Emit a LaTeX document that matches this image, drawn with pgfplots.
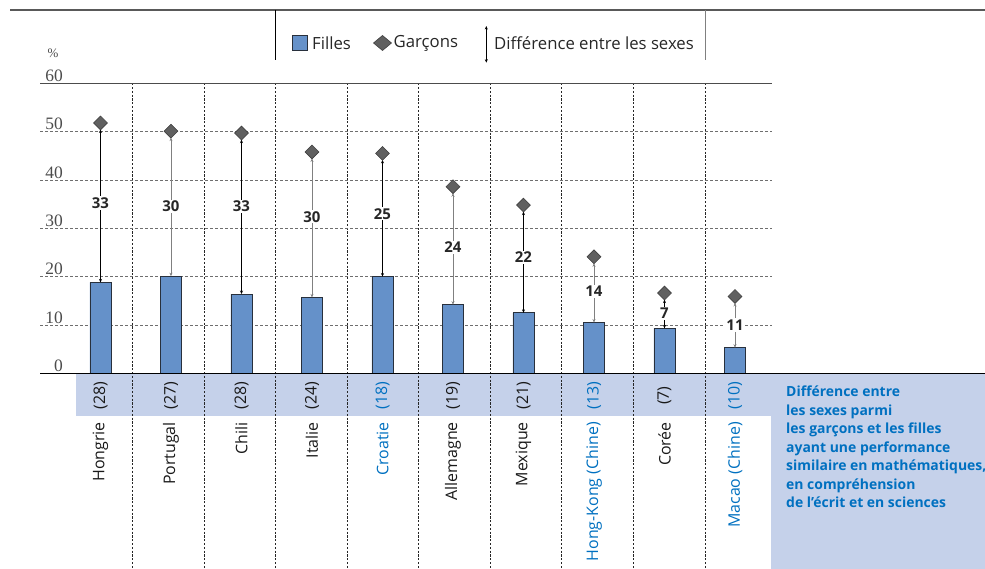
\documentclass[border=0pt]{standalone}
\usepackage{fontspec}
\setmainfont{Open Sans}
\newfontfamily\serifnum{Liberation Serif}
\usepackage{pgfplots}
\usepackage{pgfplotstable}
\pgfplotsset{compat=1.18}
\usetikzlibrary{arrows.meta}

\definecolor{barblue}{RGB}{101,145,201}
\definecolor{baredge}{RGB}{40,48,60}
\definecolor{diagray}{RGB}{96,96,96}
\definecolor{bandblue}{RGB}{197,209,234}
\definecolor{txtblue}{RGB}{0,112,192}
\definecolor{gridgray}{RGB}{110,110,110}

% x, girls, boys, label height, difference
\pgfplotstableread{
x girls boys lab diff
0 18.8 51.8 35.2 33
1 20.1 50.1 34.5 30
2 16.4 49.7 34.5 33
3 15.7 45.8 32.4 30
4 20.0 45.5 33.0 25
5 14.2 38.6 26.1 24
6 12.5 34.8 24.0 22
7 10.5 24.1 16.9 14
8 9.3 16.6 12.4 7
9 5.3 15.9 10.0 11
}\data

\tikzset{
  darr/.style={line width=0.9bp, {Stealth[length=3.5bp,width=3bp]}-{Stealth[length=3.5bp,width=3bp]}, shorten >=6.5bp},
  cname/.style={rotate=90, anchor=east, inner sep=0pt, text=black!90, font=\fontsize{16}{16}\selectfont},
  cnum/.style={rotate=90, anchor=center, inner sep=0pt, text=black!90, font=\fontsize{16}{16}\selectfont},
}

\begin{document}
\begin{tikzpicture}
\useasboundingbox (0,0) rectangle (985bp,569bp);
\fill[bandblue] (76bp,153.3bp) rectangle (985bp,195.7bp);
\fill[bandblue] (771bp,0) rectangle (985bp,195.7bp);
\foreach \xp in {132.7,204,275.3,347,418.7,490,561.7,633.3,705}
  \draw[black!85, dash pattern=on 2.2bp off 1.6bp, line width=0.6bp] (\xp bp,485.7bp) -- (\xp bp,0);

\begin{axis}[
  at={(40bp,195.7bp)}, anchor=south west,
  scale only axis, width=732bp, height=290bp,
  xmin=-0.858, xmax=9.525, ymin=0, ymax=60,
  axis line style={draw=none},
  xtick=\empty, ytick={0,10,...,60},
  ymajorgrids,
  major grid style={gridgray, dash pattern=on 3bp off 2bp, line width=0.7bp},
  major tick length=0,
  /pgf/number format/assume math mode=true,
  yticklabel style={font=\serifnum\fontsize{17.5}{17.5}\selectfont, text=black!70,
    anchor=south east, inner sep=0pt, xshift=23bp, yshift=1.5bp},
  clip=false,
]
\addplot[ybar, bar width=21bp, fill=barblue, draw=baredge, line width=0.8bp] table[x=x, y=girls] {\data};

\addplot[darr, black] coordinates {(0,18.8) (0,51.8)};
\addplot[darr, black!50] coordinates {(1,20.1) (1,50.1)};
\addplot[darr, black] coordinates {(2,16.4) (2,49.7)};
\addplot[darr, black!50] coordinates {(3,15.7) (3,45.8)};
\addplot[darr, black] coordinates {(4,20.0) (4,45.5)};
\addplot[darr, black!50] coordinates {(5,14.2) (5,38.6)};
\addplot[darr, black] coordinates {(6,12.5) (6,34.8)};
\addplot[darr, black!50] coordinates {(7,10.5) (7,24.1)};
\addplot[darr, black] coordinates {(8,9.3) (8,16.6)};
\addplot[darr, black!50] coordinates {(9,5.3) (9,15.9)};

\addplot[only marks, mark=square*, mark size=4.9bp,
  mark options={rotate=45, fill=diagray, draw=black!75, line width=0.6bp}]
  table[x=x, y=boys] {\data};

\addplot[only marks, mark=none, nodes near coords, point meta=explicit symbolic,
  every node near coord/.append style={anchor=center, fill=white, inner sep=1.2bp,
    font=\bfseries\fontsize{15}{15}\selectfont, text=black!85}]
  table[x=x, y=lab, meta=diff] {\data};

\node[cname] at (axis cs:0,-10.08) {Hongrie};
\node[cname] at (axis cs:1,-10.08) {Portugal};
\node[cname] at (axis cs:2,-10.08) {Chili};
\node[cname] at (axis cs:3,-10.08) {Italie};
\node[cname, text=txtblue] at (axis cs:4,-10.08) {Croatie};
\node[cname] at (axis cs:5,-10.08) {Allemagne};
\node[cname] at (axis cs:6,-10.08) {Mexique};
\node[cname, text=txtblue] at (axis cs:7,-10.08) {Hong-Kong (Chine)};
\node[cname] at (axis cs:8,-10.08) {Corée};
\node[cname, text=txtblue] at (axis cs:9,-10.08) {Macao (Chine)};

\node[cnum] at (axis cs:0,-4.63) {(28)};
\node[cnum] at (axis cs:1,-4.63) {(27)};
\node[cnum] at (axis cs:2,-4.63) {(28)};
\node[cnum] at (axis cs:3,-4.63) {(24)};
\node[cnum, text=txtblue] at (axis cs:4,-4.63) {(18)};
\node[cnum] at (axis cs:5,-4.63) {(19)};
\node[cnum] at (axis cs:6,-4.63) {(21)};
\node[cnum, text=txtblue] at (axis cs:7,-4.63) {(13)};
\node[cnum] at (axis cs:8,-4.63) {(7)};
\node[cnum, text=txtblue] at (axis cs:9,-4.63) {(10)};
\end{axis}

\draw[black, line width=1bp] (40bp,195.7bp) -- (985bp,195.7bp);
\draw[black!70, line width=1bp] (40bp,485.7bp) -- (772bp,485.7bp);
\draw[black!65, line width=1.5bp] (10bp,559bp) -- (985bp,559bp);
\draw[black, line width=0.7bp] (275.3bp,559bp) -- (275.3bp,509bp);
\draw[black!50, line width=0.8bp] (705bp,559bp) -- (705bp,509bp);

\node[font=\serifnum\fontsize{13}{13}\selectfont, text=black!70] at (53bp,516bp) {\%};

% legend
\filldraw[fill=barblue, draw=baredge, line width=0.7bp] (292bp,518.5bp) rectangle (307bp,533.5bp);
\node[anchor=west, inner sep=0pt, font=\fontsize{16.8}{16.8}\selectfont, text=black!85] at (312bp,526bp) {Filles};
\filldraw[fill=diagray, draw=black!75, line width=0.6bp] (382.5bp,533.5bp) -- (391.5bp,526bp) -- (382.5bp,518.5bp) -- (373.5bp,526bp) -- cycle;
\node[anchor=west, inner sep=0pt, font=\fontsize{16.8}{16.8}\selectfont, text=black!85] at (393.5bp,526bp) {Garçons};
\draw[line width=0.6bp, {Stealth[length=3.5bp,width=3bp]}-{Stealth[length=3.5bp,width=3bp]}] (486.3bp,543bp) -- (486.3bp,506.3bp);
\node[anchor=west, inner sep=0pt, font=\fontsize{16.8}{16.8}\selectfont, text=black!85] at (494bp,526bp) {Différence entre les sexes};

\node[anchor=north west, align=left, inner sep=0pt, text=txtblue,
  font=\bfseries\fontsize{14}{18.5}\selectfont] at (786bp,183bp)
  {Différence entre\\les sexes parmi\\les garçons et les filles\\ayant une performance\\similaire en mathématiques,\\en compréhension\\de l’écrit et en sciences};
\end{tikzpicture}
\end{document}
